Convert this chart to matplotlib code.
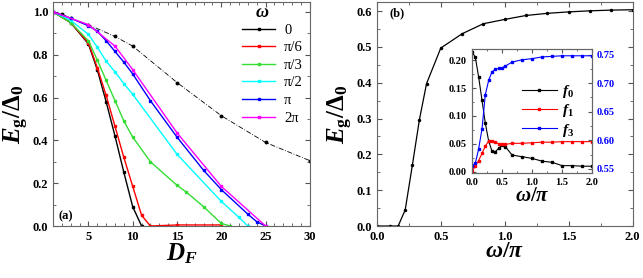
import matplotlib
matplotlib.use("Agg")
import matplotlib.pyplot as plt
from matplotlib.ticker import MultipleLocator

plt.rcParams["font.family"] = "Liberation Serif"
plt.rcParams["font.weight"] = "bold"
plt.rcParams["mathtext.fontset"] = "custom"
plt.rcParams["mathtext.rm"] = "Liberation Serif"
plt.rcParams["mathtext.it"] = "Liberation Serif:italic:bold"
plt.rcParams["mathtext.bf"] = "Liberation Serif:bold"

# ---- panel (a) data: E_g/Delta_0 vs D_F ----
ref_x = [1, 2, 3, 5, 8, 10, 15, 20, 25, 30]
ref_y = [1.0, 0.99, 0.97, 0.94, 0.885, 0.84, 0.67, 0.515, 0.39, 0.305]

w0_x = [1, 3, 5, 6, 7, 8, 9, 10, 11]
w0_y = [1.0, 0.95, 0.85, 0.73, 0.58, 0.42, 0.25, 0.09, 0.0]

w6_x = [1, 3, 5, 6, 7, 8, 9, 10, 11, 12, 15, 20]
w6_y = [1.0, 0.95, 0.855, 0.74, 0.61, 0.465, 0.32, 0.185, 0.05, 0.0, 0.005, 0.005]

w3_x = [1, 3, 5, 6, 7, 8, 9, 10, 12, 15, 16, 18, 20, 21]
w3_y = [1.0, 0.95, 0.865, 0.775, 0.68, 0.585, 0.49, 0.415, 0.30, 0.19, 0.16, 0.09, 0.012, 0.0]

w2_x = [1, 3, 5, 6, 7, 8, 9, 10, 15, 20, 22, 23]
w2_y = [1.0, 0.96, 0.895, 0.835, 0.77, 0.72, 0.665, 0.615, 0.335, 0.115, 0.04, 0.0]

wpi_x = [1, 3, 5, 6, 7, 8, 9, 10, 12, 15, 18, 20, 23, 24, 25]
wpi_y = [1.0, 0.97, 0.935, 0.91, 0.865, 0.815, 0.765, 0.71, 0.585, 0.415, 0.26, 0.17, 0.055, 0.02, 0.0]

w2pi_x = [1, 5, 8, 10, 15, 20, 25]
w2pi_y = [1.0, 0.94, 0.84, 0.73, 0.435, 0.185, 0.0]

series_a = [
    (w0_x, w0_y, "black", "0"),
    (w6_x, w6_y, "red", "π/6"),
    (w3_x, w3_y, "#33dd33", "π/3"),
    (w2_x, w2_y, "cyan", "π/2"),
    (wpi_x, wpi_y, "blue", "π"),
    (w2pi_x, w2pi_y, "magenta", "2π"),
]

# ---- panel (b) data: E_g/Delta_0 vs omega/pi ----
om_x = [0.0, 0.1, 0.167, 0.222, 0.278, 0.333, 0.389, 0.5, 0.667, 0.833,
        1.0, 1.167, 1.333, 1.5, 1.667, 1.833, 2.0]
om_y = [0.0, 0.0, 0.0, 0.045, 0.17, 0.297, 0.398, 0.497, 0.537, 0.565,
        0.577, 0.588, 0.594, 0.598, 0.601, 0.603, 0.604]

# inset
in_x = [0.0, 0.056, 0.111, 0.167, 0.222, 0.278, 0.333, 0.389, 0.444, 0.5,
        0.556, 0.667, 0.833, 1.0, 1.167, 1.333, 1.5, 1.667, 1.833, 2.0]
f0 = [0.215, 0.205, 0.17, 0.128, 0.087, 0.055, 0.037, 0.036, 0.042, 0.048,
      0.045, 0.030, 0.027, 0.024, 0.019, 0.017, 0.011, 0.011, 0.010, 0.010]
f1 = [0.001, 0.010, 0.020, 0.033, 0.046, 0.055, 0.056, 0.053, 0.050, 0.049,
      0.049, 0.051, 0.051, 0.052, 0.053, 0.053, 0.054, 0.054, 0.054, 0.054]
f3 = [0.555, 0.560, 0.585, 0.620, 0.680, 0.705, 0.720, 0.724, 0.726, 0.727,
      0.730, 0.737, 0.741, 0.743, 0.746, 0.747, 0.748, 0.748, 0.748, 0.748]


def style_ax(ax, size=9):
    ax.tick_params(which="both", direction="in", top=True, right=True,
                   labelsize=size, color="#555555")
    ax.tick_params(which="major", length=3.5)
    ax.tick_params(which="minor", length=2)
    for lab in ax.get_xticklabels() + ax.get_yticklabels():
        lab.set_fontweight("bold")
    for sp in ax.spines.values():
        sp.set_color("#666666")
        sp.set_linewidth(0.8)


fig = plt.figure(figsize=(6.43, 2.78), dpi=100)
ylab = r"$E_{\mathrm{g}}/\Delta_0$"

# ---- (a) ----
ax1 = fig.add_axes([0.0824, 0.187, 0.3996, 0.805])
ax1.plot(ref_x, ref_y, color="black", ls=(0, (6, 2, 1, 2)), lw=0.6,
         marker="o", ms=1.8)
for xs, ys, c, lab in series_a:
    ax1.plot(xs, ys, color=c, lw=1.0, marker="s", ms=2, label=lab)
ax1.set_xlim(1, 30)
ax1.set_ylim(0, 1.045)
ax1.xaxis.set_minor_locator(MultipleLocator(1))
ax1.yaxis.set_minor_locator(MultipleLocator(0.1))
ax1.set_xticks([5, 10, 15, 20, 25, 30])
ax1.set_yticks([0, 0.2, 0.4, 0.6, 0.8, 1.0])
ax1.set_yticklabels(["0.0", "0.2", "0.4", "0.6", "0.8", "1.0"])
ax1.set_xlabel(r"$D_F$", fontsize=18, labelpad=-1)
ax1.set_ylabel(ylab, fontsize=18, labelpad=1)
style_ax(ax1)
leg = ax1.legend(loc="upper left", frameon=False, fontsize=10.5,
                 handlelength=2.3, handletextpad=0.6, labelspacing=0.3,
                 borderaxespad=0, borderpad=0, bbox_to_anchor=(0.735, 0.905))
for t in leg.get_texts():
    t.set_fontweight("normal")
ax1.text(0.815, 0.915, r"$\omega$", transform=ax1.transAxes, fontsize=13,
         ha="center", va="bottom")
ax1.text(1.6, 0.03, "(a)", fontsize=9, fontweight="bold")

# ---- (b) ----
ax2 = fig.add_axes([0.586, 0.187, 0.398, 0.805])
ax2.plot(om_x, om_y, color="black", lw=0.9, marker="o", ms=1.5)
ax2.set_xlim(0, 2.0)
ax2.set_ylim(0, 0.625)
ax2.xaxis.set_minor_locator(MultipleLocator(0.25))
ax2.yaxis.set_minor_locator(MultipleLocator(0.05))
ax2.set_xticks([0, 0.5, 1.0, 1.5, 2.0])
ax2.set_xticklabels(["0.0", "0.5", "1.0", "1.5", "2.0"])
ax2.set_yticks([0, 0.1, 0.2, 0.3, 0.4, 0.5, 0.6])
ax2.set_yticklabels(["0.0", "0.1", "0.2", "0.3", "0.4", "0.5", "0.6"])
ax2.set_xlabel(r"$\omega/\pi$", fontsize=17, labelpad=-1)
ax2.set_ylabel(ylab, fontsize=18, labelpad=1)
style_ax(ax2)
ax2.text(0.1, 0.585, "(b)", fontsize=9, fontweight="bold")

# ---- inset ----
ax3 = fig.add_axes([0.734, 0.378, 0.187, 0.446])
ax3.plot(in_x, f0, color="black", lw=0.8, marker="s", ms=1.5, label=r"$f_0$")
ax3.plot(in_x, f1, color="red", lw=0.8, marker="s", ms=1.5, label=r"$f_1$")
ax3.set_xlim(0, 2.0)
ax3.set_ylim(-0.002, 0.22)
ax3.set_xticks([0, 0.5, 1.0, 1.5, 2.0])
ax3.set_xticklabels(["0.0", "0.5", "1.0", "1.5", "2.0"])
ax3.xaxis.set_minor_locator(MultipleLocator(0.25))
ax3.set_yticks([0, 0.05, 0.10, 0.15, 0.20])
ax3.set_yticklabels(["0.00", "0.05", "0.10", "0.15", "0.20"])
ax3.yaxis.set_minor_locator(MultipleLocator(0.025))
ax3.set_xlabel(r"$\omega/\pi$", fontsize=15, labelpad=0)
ax3.tick_params(which="both", direction="in", top=True, right=False,
                labelsize=7.5, color="#555555")
ax3.tick_params(which="major", length=3)
ax3.tick_params(which="minor", length=1.5)
for lab in ax3.get_xticklabels() + ax3.get_yticklabels():
    lab.set_fontweight("bold")

ax4 = ax3.twinx()
ax4.plot(in_x, f3, color="blue", lw=0.8, marker="s", ms=1.5, label=r"$f_3$")
ax4.set_ylim(0.543, 0.76)
ax4.set_yticks([0.55, 0.60, 0.65, 0.70, 0.75])
ax4.set_yticklabels(["0.55", "0.60", "0.65", "0.70", "0.75"])
ax4.yaxis.set_minor_locator(MultipleLocator(0.025))
ax4.tick_params(which="both", direction="in", labelsize=7.5,
                labelcolor="blue", color="#555555")
ax4.tick_params(which="major", length=3)
ax4.tick_params(which="minor", length=1.5)
for lab in ax4.get_yticklabels():
    lab.set_fontweight("bold")
for a in (ax3, ax4):
    for sp in a.spines.values():
        sp.set_color("#666666")
        sp.set_linewidth(0.8)

h1, l1 = ax3.get_legend_handles_labels()
h2, l2 = ax4.get_legend_handles_labels()
ax4.legend(h1 + h2, l1 + l2, loc="center right", frameon=False, fontsize=11,
           handlelength=2.3, handletextpad=0.3, labelspacing=0.15,
           bbox_to_anchor=(0.96, 0.5))

fig.savefig("out.png", dpi=100)
